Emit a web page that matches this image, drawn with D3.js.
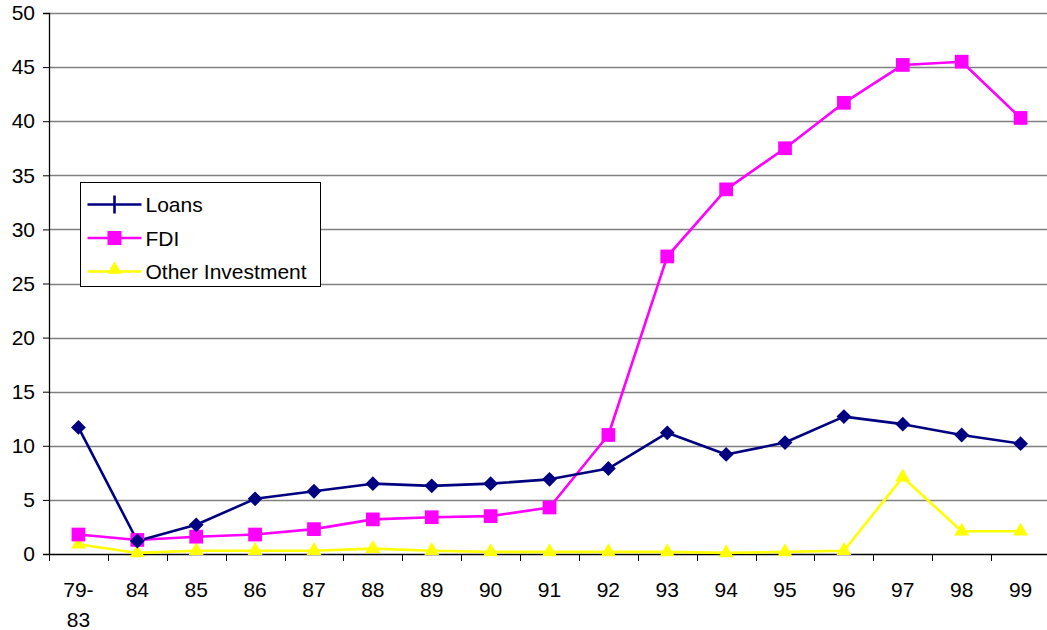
<!DOCTYPE html>
<html>
<head>
<meta charset="utf-8">
<script src="https://cdn.jsdelivr.net/npm/d3@7"></script>
<style>
  body { margin: 0; background: #fff; }
  svg { display: block; font-family: Arial, "Liberation Sans", sans-serif; }
</style>
</head>
<body>
<svg id="chart" width="1047" height="630"></svg>
<script>
"use strict";

var categories = ['79-83', '84', '85', '86', '87', '88', '89', '90', '91', '92', '93', '94', '95', '96', '97', '98', '99'];
var loans = [11.7, 1.2, 2.7, 5.1, 5.8, 6.5, 6.3, 6.5, 6.9, 7.9, 11.2, 9.2, 10.3, 12.7, 12.0, 11.0, 10.2];
var fdi = [1.8, 1.3, 1.6, 1.8, 2.3, 3.2, 3.4, 3.5, 4.3, 11.0, 27.5, 33.7, 37.5, 41.7, 45.2, 45.5, 40.3];
var other = [0.9, 0.1, 0.3, 0.3, 0.3, 0.5, 0.3, 0.2, 0.2, 0.2, 0.2, 0.1, 0.2, 0.3, 7.1, 2.1, 2.1];
var yTicks = [0, 5, 10, 15, 20, 25, 30, 35, 40, 45, 50];

var series = [
  { name: 'Loans', values: loans, color: '#000080', symbol: d3.symbolDiamond2, size: 140, legend: 'cross' },
  { name: 'FDI', values: fdi, color: '#FF00FF', symbol: d3.symbolSquare2, size: 240, legend: 'square' },
  { name: 'Other Investment', values: other, color: '#FFFF00', symbol: d3.symbolTriangle2, size: 160, legend: 'triangle' }
];

function draw_chart(svg) {
  var margin = { top: 13, right: -3, bottom: 76, left: 49 };
  var width = 1047 - margin.left - margin.right;
  var height = 630 - margin.top - margin.bottom;

  var plot = svg.append('g')
    .attr('transform', 'translate(' + margin.left + ',' + margin.top + ')');

  var X = d3.scaleBand().domain(categories).range([0, width]);
  var Y = d3.scaleLinear().domain([0, 50]).range([height, 0]);

  // gridlines
  plot.append('g').selectAll('line')
    .data(yTicks.filter(function (t) { return t > 0; }))
    .join('line')
    .attr('x1', 0).attr('x2', width)
    .attr('y1', function (d) { return Math.round(Y(d)) + 0.5; })
    .attr('y2', function (d) { return Math.round(Y(d)) + 0.5; })
    .attr('stroke', '#808080')
    .attr('stroke-width', 1.3);

  // y axis
  var yaxis = d3.axisLeft(Y).tickValues(yTicks).tickSize(6).tickPadding(8);
  var gy = plot.append('g').call(yaxis);
  gy.select('.domain').attr('stroke', '#000').attr('stroke-width', 1.3);
  gy.selectAll('.tick line').attr('stroke', '#000');
  gy.selectAll('.tick text').attr('font-size', 21).attr('fill', '#000')
    .attr('font-family', 'Arial, "Liberation Sans", sans-serif');

  // x axis with ticks at category boundaries
  var gx = plot.append('g').attr('transform', 'translate(0,' + height + ')');
  gx.append('line').attr('x1', 0).attr('x2', width).attr('y1', 0.5).attr('y2', 0.5)
    .attr('stroke', '#000').attr('stroke-width', 1.3);
  var bounds = categories.map(function (c) { return X(c); }).concat([X(categories[categories.length - 1]) + X.bandwidth()]);
  gx.selectAll('line.tk').data(bounds).join('line')
    .attr('class', 'tk')
    .attr('x1', function (d) { return Math.round(d) + 0.5; })
    .attr('x2', function (d) { return Math.round(d) + 0.5; })
    .attr('y1', 0).attr('y2', 7)
    .attr('stroke', '#000');
  var labels = gx.selectAll('text.lbl').data(categories).join('text')
    .attr('class', 'lbl')
    .attr('x', function (d) { return X(d) + X.bandwidth() / 2; })
    .attr('y', 43)
    .attr('text-anchor', 'middle')
    .attr('font-size', 21)
    .attr('fill', '#000');
  labels.each(function (d) {
    var t = d3.select(this);
    var parts = d.indexOf('-') >= 0 ? [d.split('-')[0] + '-', d.split('-')[1]] : [d];
    parts.forEach(function (p, i) {
      t.append('tspan').attr('x', X(d) + X.bandwidth() / 2).attr('dy', i === 0 ? 0 : 30).text(p);
    });
  });

  var line = d3.line()
    .x(function (d, i) { return X(categories[i]) + X.bandwidth() / 2; })
    .y(function (d) { return Y(d); });

  series.slice().reverse().forEach(function (s) {
    plot.append('path')
      .datum(s.values)
      .attr('fill', 'none')
      .attr('stroke', s.color)
      .attr('stroke-width', 2.6)
      .attr('stroke-linejoin', 'round')
      .attr('d', line);
  });
  series.slice().reverse().forEach(function (s) {
    var sym = d3.symbol().type(s.symbol).size(s.size);
    plot.append('g').selectAll('path')
      .data(s.values)
      .join('path')
      .attr('transform', function (d, i) {
        return 'translate(' + (X(categories[i]) + X.bandwidth() / 2) + ',' + Y(d) + ')';
      })
      .attr('d', sym)
      .attr('fill', s.color);
  });

  // legend
  var lg = svg.append('g').attr('transform', 'translate(80.5,182.5)');
  lg.append('rect').attr('width', 240).attr('height', 104)
    .attr('fill', '#fff').attr('stroke', '#000').attr('stroke-width', 1);
  series.forEach(function (s, i) {
    var cy = 22 + i * 33.5;
    var row = lg.append('g').attr('transform', 'translate(0,' + cy + ')');
    row.append('line').attr('x1', 7).attr('x2', 61).attr('y1', 0).attr('y2', 0)
      .attr('stroke', s.color).attr('stroke-width', 2.6);
    if (s.legend === 'cross') {
      row.append('line').attr('x1', 34).attr('x2', 34).attr('y1', -9).attr('y2', 9)
        .attr('stroke', s.color).attr('stroke-width', 2.6);
    } else if (s.legend === 'square') {
      row.append('rect').attr('x', 27).attr('y', -7).attr('width', 14).attr('height', 14).attr('fill', s.color);
    } else {
      row.append('path').attr('transform', 'translate(34,-2)')
        .attr('d', d3.symbol().type(d3.symbolTriangle2).size(150)).attr('fill', s.color);
    }
    row.append('text').attr('x', 65).attr('y', 7.5)
      .attr('font-size', 21).attr('fill', '#000').text(s.name);
  });
}

draw_chart(d3.select('#chart'));
</script>
</body>
</html>
